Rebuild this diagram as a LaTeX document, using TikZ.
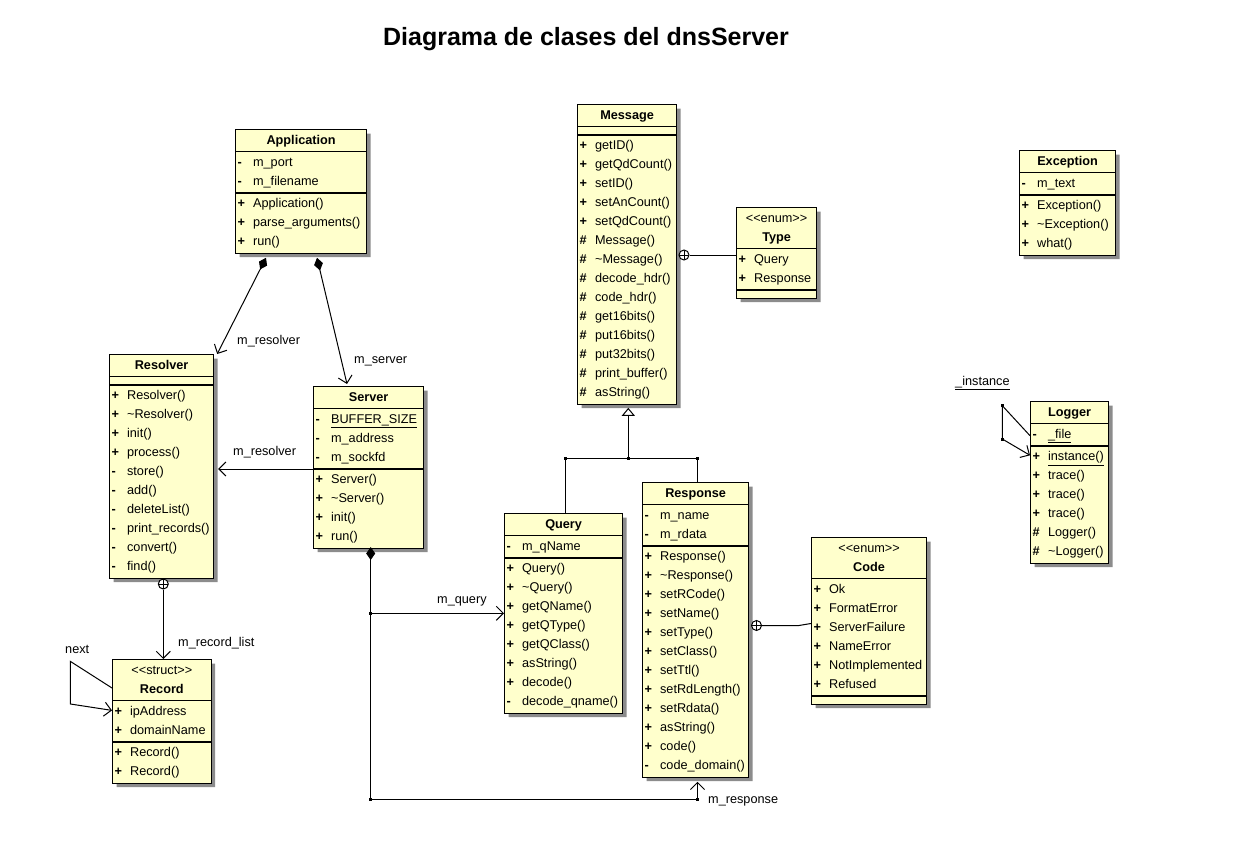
\documentclass[tikz,border=0pt]{standalone}
\usepackage{fontspec}
\setmainfont{Liberation Sans}
\usetikzlibrary{calc}
\usetikzlibrary{arrows.meta}
\usetikzlibrary{shapes.multipart,shadows}
\definecolor{umlfill}{RGB}{255,255,204}
\tikzset{%
  umlclass/.style={rectangle split,rectangle split parts=3,draw,line width=1.2pt,fill=umlfill,
    text width=#1,align=left,inner xsep=2pt,inner ysep=1pt,anchor=north west,
    drop shadow={shadow xshift=4pt,shadow yshift=-4pt,fill=black!45,opacity=1}},
  umllabel/.style={inner sep=0pt,anchor=base west},
  link/.style={line width=1pt},
  assoc/.style={link,-{Straight Barb[length=7pt,width=14pt]}},
  compo/.style={link,{Diamond[length=13pt,width=9pt]}-{Straight Barb[length=7pt,width=14pt]}},
  inherit/.style={link,-{Triangle[open,length=8pt,width=13pt,fill=white]}},
  nestmark/.style={circle,draw,line width=1pt,fill=white,inner sep=0pt,minimum size=10pt,
    path picture={\draw[line width=1pt] (path picture bounding box.north) -- (path picture bounding box.south)
      (path picture bounding box.west) -- (path picture bounding box.east);}}
}
\newcommand\umlrow[2]{\makebox[15.5pt][l]{\textbf{#1}}#2\strut}
\newcommand\umlmid[1]{\makebox[\linewidth]{#1\strut}}
\newcommand\umlname[1]{\umlmid{\textbf{#1}}}
\newcommand\umlstereo[2]{\umlmid{<{}<#1>{}>}\\\umlmid{\textbf{#2}}}
\newcommand\umlempty{\rule{0pt}{5pt}}
\newcommand\joint[1]{\fill (#1) ++(-1.5,-1.5) rectangle ++(3,3);}

\begin{document}
\begin{tikzpicture}[x=1pt,y=-1pt,font=\fontsize{12.7}{19}\selectfont]
    \fill[white] (0,0) rectangle (1250,845);
    \useasboundingbox (0,0) rectangle (1250,845);
    \node[anchor=base,font=\fontsize{25}{30}\selectfont\bfseries] (title) at (586,45.5)
        {Diagrama de clases del dnsServer};
    % classes
    \node[umlclass=127pt] (application) at (235,129) {\umlname{Application}
        \nodepart{second}\umlrow{-}{m\_port}\\\umlrow{-}{m\_filename}
        \nodepart{third}\umlrow{+}{Application()}\\\umlrow{+}{parse\_arguments()}\\\umlrow{+}{run()}};
    \node[umlclass=95pt] (message) at (577,104) {\umlname{Message}
        \nodepart{second}\umlempty
        \nodepart{third}\umlrow{+}{getID()}\\\umlrow{+}{getQdCount()}\\\umlrow{+}{setID()}\\
        \umlrow{+}{setAnCount()}\\\umlrow{+}{setQdCount()}\\\umlrow{\#}{Message()}\\
        \umlrow{\#}{\textasciitilde Message()}\\\umlrow{\#}{decode\_hdr()}\\\umlrow{\#}{code\_hdr()}\\
        \umlrow{\#}{get16bits()}\\\umlrow{\#}{put16bits()}\\\umlrow{\#}{put32bits()}\\
        \umlrow{\#}{print\_buffer()}\\\umlrow{\#}{asString()}};
    \node[umlclass=76pt] (typ) at (736,207) {\umlstereo{enum}{Type}
        \nodepart{second}\umlrow{+}{Query}\\\umlrow{+}{Response}
        \nodepart{third}\umlempty};
    \node[umlclass=92pt] (exception) at (1019,150) {\umlname{Exception}
        \nodepart{second}\umlrow{-}{m\_text}
        \nodepart{third}\umlrow{+}{Exception()}\\\umlrow{+}{\textasciitilde Exception()}\\\umlrow{+}{what()}};
    \node[umlclass=100pt] (resolver) at (109,354) {\umlname{Resolver}
        \nodepart{second}\umlempty
        \nodepart{third}\umlrow{+}{Resolver()}\\\umlrow{+}{\textasciitilde Resolver()}\\\umlrow{+}{init()}\\
        \umlrow{+}{process()}\\\umlrow{-}{store()}\\\umlrow{-}{add()}\\\umlrow{-}{deleteList()}\\
        \umlrow{-}{print\_records()}\\\umlrow{-}{convert()}\\\umlrow{-}{find()}};
    \node[umlclass=106pt] (server) at (313,386) {\umlname{Server}
        \nodepart{second}\umlrow{-}{\underline{BUFFER\_SIZE}}\\\umlrow{-}{m\_address}\\\umlrow{-}{m\_sockfd}
        \nodepart{third}\umlrow{+}{Server()}\\\umlrow{+}{\textasciitilde Server()}\\\umlrow{+}{init()}\\\umlrow{+}{run()}};
    \node[umlclass=94.5pt] (record) at (112,659) {\umlstereo{struct}{Record}
        \nodepart{second}\umlrow{+}{ipAddress}\\\umlrow{+}{domainName}
        \nodepart{third}\umlrow{+}{Record()}\\\umlrow{+}{Record()}};
    \node[umlclass=114pt] (query) at (504,513) {\umlname{Query}
        \nodepart{second}\umlrow{-}{m\_qName}
        \nodepart{third}\umlrow{+}{Query()}\\\umlrow{+}{\textasciitilde Query()}\\\umlrow{+}{getQName()}\\
        \umlrow{+}{getQType()}\\\umlrow{+}{getQClass()}\\\umlrow{+}{asString()}\\\umlrow{+}{decode()}\\
        \umlrow{-}{decode\_qname()}};
    \node[umlclass=102pt] (response) at (642,482) {\umlname{Response}
        \nodepart{second}\umlrow{-}{m\_name}\\\umlrow{-}{m\_rdata}
        \nodepart{third}\umlrow{+}{Response()}\\\umlrow{+}{\textasciitilde Response()}\\\umlrow{+}{setRCode()}\\
        \umlrow{+}{setName()}\\\umlrow{+}{setType()}\\\umlrow{+}{setClass()}\\\umlrow{+}{setTtl()}\\
        \umlrow{+}{setRdLength()}\\\umlrow{+}{setRdata()}\\\umlrow{+}{asString()}\\\umlrow{+}{code()}\\
        \umlrow{-}{code\_domain()}};
    \node[umlclass=111pt] (code) at (811,537) {\umlstereo{enum}{Code}
        \nodepart{second}\umlrow{+}{Ok}\\\umlrow{+}{FormatError}\\\umlrow{+}{ServerFailure}\\
        \umlrow{+}{NameError}\\\umlrow{+}{NotImplemented}\\\umlrow{+}{Refused}
        \nodepart{third}\umlempty};
    \node[umlclass=74pt] (logger) at (1030,401) {\umlname{Logger}
        \nodepart{second}\umlrow{-}{\underline{\_file}}
        \nodepart{third}\umlrow{+}{\underline{instance()}}\\\umlrow{+}{trace()}\\\umlrow{+}{trace()}\\
        \umlrow{+}{trace()}\\\umlrow{\#}{Logger()}\\\umlrow{\#}{\textasciitilde Logger()}};
    % composition from Application
    \draw[compo] ([xshift=31pt,yshift=-4pt]application.south west) -- ([xshift=3pt]resolver.north east);
    \draw[compo] ([xshift=82pt,yshift=-4pt]application.south west) -- ([xshift=34pt,yshift=2pt]server.north west);
    \node[umllabel] (lblappres) at (237,344) {m\_resolver};
    \node[umllabel] (lblappsrv) at (354,363) {m\_server};
    % Server
    \draw[assoc] (server.two split west) -- ($(server.two split west -| resolver.east)+(4,0)$);
    \node[umllabel] (lblsrvres) at (233,455) {m\_resolver};
    \coordinate (srvfoot) at (370.7,547);
    \coordinate (qjoin) at (370.7,613.3);
    \coordinate (bottomleft) at (370.7,799.3);
    \coordinate (bottomright) at (697.5,799.3);
    \draw[compo] (srvfoot) -- (bottomleft) -- (bottomright) -- ($(response.south -| bottomright)+(0,4)$);
    \draw[assoc] (qjoin) -- (qjoin -| query.west);
    \joint{qjoin}\joint{bottomleft}\joint{bottomright}
    \node[umllabel] (lblquery) at (437,603) {m\_query};
    \node[umllabel] (lblresponse) at (708,803) {m\_response};
    % generalization
    \coordinate (genjoin) at (628.3,458.5);
    \coordinate (genq) at (565.5,458.5);
    \coordinate (genr) at (697.5,458.5);
    \draw[inherit] (genjoin) -- ($(message.south -| genjoin)+(0,3)$);
    \draw[link] (query.north -| genq) -- (genq) -- (genr) -- (response.north -| genr);
    \joint{genq}\joint{genjoin}\joint{genr}
    % nested classes
    \node[nestmark] (msgnest) at (684,255) {};
    \draw[link] (msgnest.east) -- (msgnest -| typ.west);
    \node[nestmark] (resnest) at (163.3,584) {};
    \draw[assoc] (resnest.south) -- (resnest |- record.north);
    \node[umllabel] (lblrecords) at (178,646) {m\_record\_list};
    \node[nestmark] (respnest) at (756.5,625.5) {};
    \draw[link] (respnest.east) -- ++(37,0) -- ($(respnest -| code.west)+(0,-2)$);
    % self associations
    \draw[assoc] ($(record.north west)+(0,29)$) -- ++(-41.6,-26.6) -- ++(0,42.6) -- ($(record.north west)+(0,51.4)$);
    \node[umllabel] (lblnext) at (65,653) {next};
    \coordinate (logtop) at (1002.3,405.7);
    \coordinate (logbot) at (1002.3,439);
    \draw[assoc] ($(logger.north west)+(0,34.7)$) -- (logtop) -- (logbot) -- ($(logger.north west)+(0,54.3)$);
    \joint{logtop}\joint{logbot}
    \node[umllabel] (lblinstance) at (955,385) {\underline{\_instance}};
\end{tikzpicture}
\end{document}
